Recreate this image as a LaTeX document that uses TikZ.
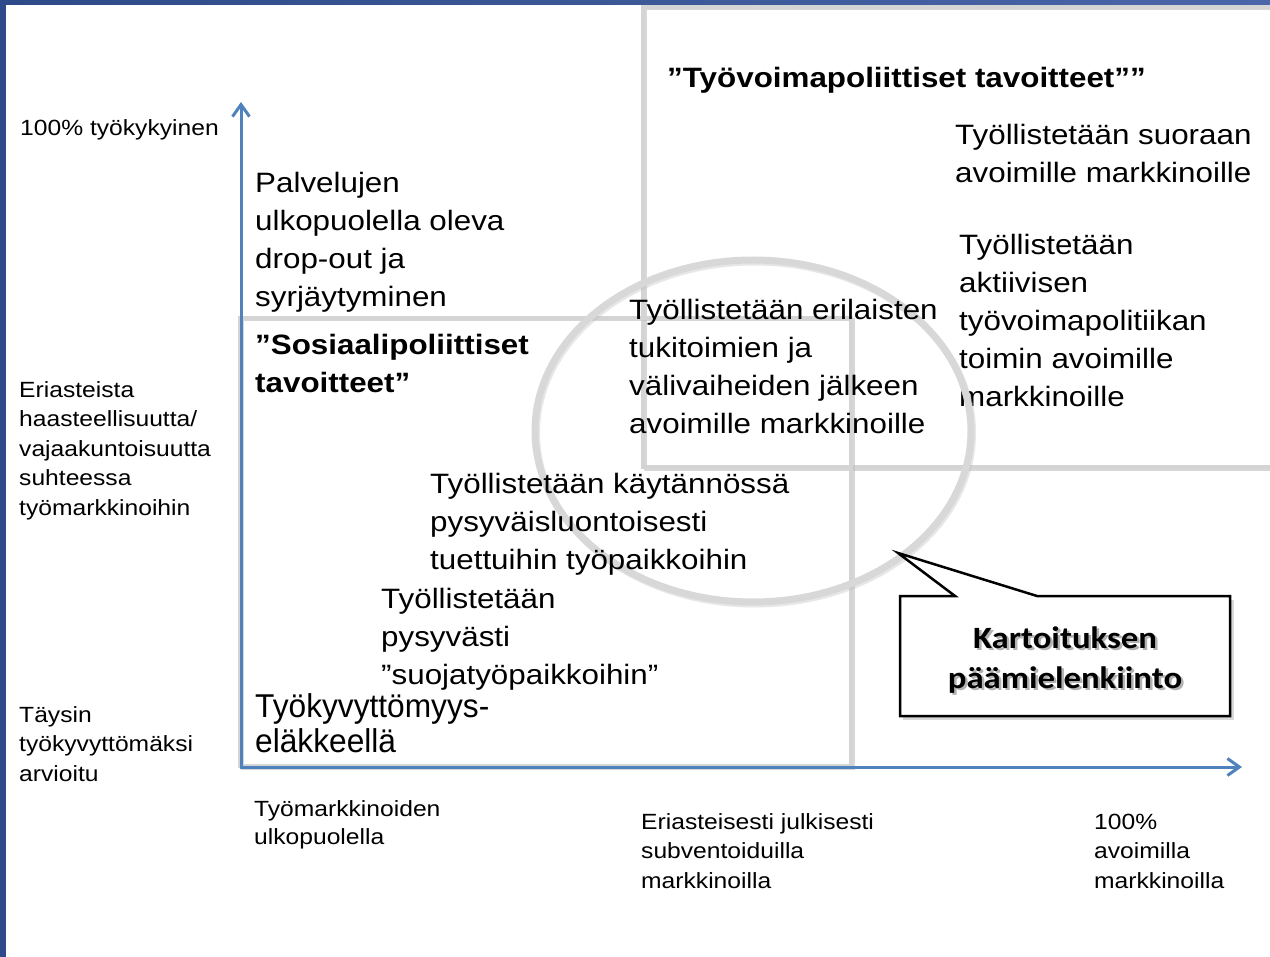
\documentclass[tikz,border=0pt]{standalone}
\usepackage{fontspec}
\setmainfont{Liberation Sans}[FakeStretch=1.12]
\newfontfamily\narrowfont{Liberation Sans}[FakeStretch=0.96]
\newfontfamily\calfont{Carlito}[FakeStretch=1.12]
\usetikzlibrary{arrows.meta,shapes.geometric}
\definecolor{axisblue}{HTML}{4F81BD}
\definecolor{barblue}{HTML}{2E4A8A}
\definecolor{barblue2}{HTML}{4A66A8}
\definecolor{framegray}{HTML}{D4D4D4}
\definecolor{shadowgray}{HTML}{BDBDBD}
\definecolor{ellgray}{HTML}{D8D8D8}
\begin{document}
\begin{tikzpicture}[x=1pt,y=-1pt,
  bigtxt/.style={anchor=base west, align=left, inner sep=0pt, font={\fontsize{28}{38}\selectfont}},
  titletxt/.style={anchor=base west, align=left, inner sep=0pt, font={\bfseries\fontsize{28}{38}\selectfont}},
  smalltxt/.style={anchor=base west, align=left, inner sep=0pt, font={\fontsize{22}{29.5}\selectfont}},
  frame/.style={draw=framegray, line width=4pt},
  frameshadow/.style={draw=shadowgray, line width=3pt, opacity=0.6},
  axisline/.style={draw=axisblue, line width=3pt, -{Straight Barb[length=12pt,width=17pt,line width=3pt]}},
  calltxt/.style={anchor=base, align=center, inner sep=0pt, font={\calfont\bfseries\fontsize{31}{40}\selectfont}},
]
% note: a multi-line node's base anchor is the baseline of its last line
\useasboundingbox (0,0) rectangle (1270,957);
\fill[white] (0,0) rectangle (1270,957);
% border bars
\fill[barblue] (0,0) rectangle (6,957);
\shade[left color=barblue, right color=barblue2] (0,0) rectangle (1270,4.5);

% big frame (Työvoimapoliittiset)
\draw[frameshadow] (645,9) rectangle (1300,469.5);
\draw[frame] (643,7) rectangle (1300,467);
% social frame
\draw[frameshadow] (242,320) rectangle (853,768.5);
\draw[frame] (240,318) rectangle (851,766);

% texts in big frame
\node[titletxt] (tvtitle) at (667,88) {”Työvoimapoliittiset tavoitteet””};
\node[bigtxt] (suoraan) at (955,183) {Työllistetään suoraan\\avoimille markkinoille};
\node[bigtxt] (aktiiv) at (959,407) {Työllistetään\\aktiivisen\\työvoimapolitiikan\\toimin avoimille\\markkinoille};

% ellipse
\draw[draw=shadowgray, line width=7pt, opacity=0.35] (754.5,433) ellipse [x radius=218, y radius=171];
\node[draw=ellgray, line width=7pt, ellipse, minimum width=436pt, minimum height=342pt, inner sep=0pt] (focus) at (753,431) {};

% other texts
\node[bigtxt] (palv) at (255,307) {Palvelujen\\ulkopuolella oleva\\drop-out ja\\syrjäytyminen};
\node[titletxt] (sostitle) at (255,393) {”Sosiaalipoliittiset\\tavoitteet”};
\node[bigtxt] (erilaisten) at (629,434) {Työllistetään erilaisten\\tukitoimien ja\\välivaiheiden jälkeen\\avoimille markkinoille};
\node[bigtxt] (kaytannossa) at (430,569) {Työllistetään käytännössä\\pysyväisluontoisesti\\tuettuihin työpaikkoihin};
\node[bigtxt] (pysyvasti) at (381,684) {Työllistetään\\pysyvästi\\”suojatyöpaikkoihin”};
\node[bigtxt, font={\narrowfont\fontsize{33}{35}\selectfont}] (elake) at (255,752) {Työkyvyttömyys-\\eläkkeellä};

% axis labels
\node[smalltxt] (ytop) at (20,136) {100\% työkykyinen};
\node[smalltxt] (ymid) at (19,515) {Eriasteista\\haasteellisuutta/\\vajaakuntoisuutta\\suhteessa\\työmarkkinoihin};
\node[smalltxt] (ybot) at (19,781) {Täysin\\työkyvyttömäksi\\arvioitu};
\node[smalltxt, font={\fontsize{22}{28.5}\selectfont}] (xleft) at (254,844.5) {Työmarkkinoiden\\ulkopuolella};
\node[smalltxt] (xmid) at (641,888) {Eriasteisesti julkisesti\\subventoiduilla\\markkinoilla};
\node[smalltxt] (xright) at (1094,888) {100\%\\avoimilla\\markkinoilla};

% axes
\coordinate (O) at (241,767);
\coordinate (ytip) at (241,102);
\coordinate (xtip) at (1242,767);
\draw[axisline] (O) -- (ytip);
\draw[axisline] (239.5,767) -- (xtip);

% callout
\coordinate (tail) at (898,553);
\fill[black, opacity=0.15] (903,600) rectangle (1234,720);
\draw[black, line width=2.5pt, fill=white, line join=miter]
  (900,596) -- (955,596) -- (tail) -- (1037,596) -- (1230,596) -- (1230,716) -- (900,716) -- cycle;
\node[calltxt, text=black, opacity=0.3] at (1067.5,690.5) {Kartoituksen\\päämielenkiinto};
\node[calltxt] (callout) at (1065,688) {Kartoituksen\\päämielenkiinto};
\end{tikzpicture}
\end{document}
